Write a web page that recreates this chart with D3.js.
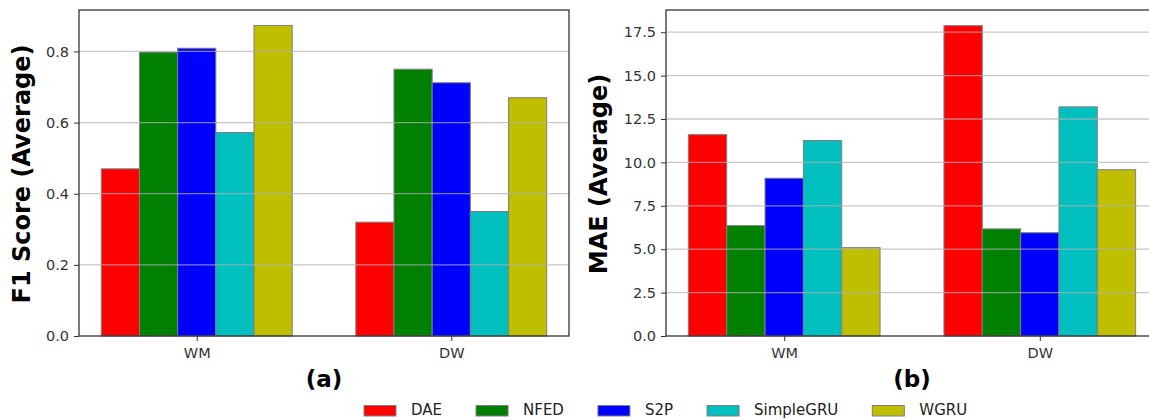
<!DOCTYPE html>
<html><head><meta charset="utf-8">
<script src="https://cdn.jsdelivr.net/npm/d3@7"></script>
<style>
body{margin:0;background:#fff;}
text{font-family:"DejaVu Sans",sans-serif;}
</style></head>
<body><svg id="c" width="1149" height="419"></svg>
<script>
const categories = ["WM", "DW"];
const models = ["DAE", "NFED", "S2P", "SimpleGRU", "WGRU"];
const colors = ["#ff0000", "#008000", "#0000ff", "#00bfbf", "#bfbf00"];
const f1Values = {
  DAE: [0.47, 0.32],
  NFED: [0.798, 0.75],
  S2P: [0.809, 0.712],
  SimpleGRU: [0.572, 0.35],
  WGRU: [0.873, 0.67]
};
const maeValues = {
  DAE: [11.6, 17.88],
  NFED: [6.36, 6.17],
  S2P: [9.09, 5.95],
  SimpleGRU: [11.26, 13.2],
  WGRU: [5.09, 9.58]
};
const f1Ticks = [0, 0.2, 0.4, 0.6, 0.8];
const maeTicks = [0, 2.5, 5, 7.5, 10, 12.5, 15, 17.5];

const svg = d3.select("#c");
svg.append("rect").attr("width",1149).attr("height",419).attr("fill","#fff");
const barW = 0.15;

function panel(opts){
  const g = svg.append("g");
  const x = d3.scaleLinear().domain([-0.4625, 1.4625]).range([opts.x0, opts.x1]);
  const y = d3.scaleLinear().domain([0, opts.ymax]).range([336, 10]);
  // bars
  models.forEach((m, j) => {
    g.selectAll(null).data(opts.values[m]).enter().append("rect")
      .attr("x", (d,i) => x(i + (j-2)*barW - barW/2))
      .attr("width", (d,i) => x(barW) - x(0))
      .attr("y", d => y(d))
      .attr("height", d => y(0) - y(d))
      .attr("fill", colors[j])
      .attr("stroke", "#7f7f7f")
      .attr("stroke-width", 1);
  });
  // grid
  g.selectAll(null).data(opts.ticks.filter(t=>t>0)).enter().append("line")
    .attr("x1", opts.x0).attr("x2", opts.x1)
    .attr("y1", d=>y(d)).attr("y2", d=>y(d))
    .attr("stroke", "#b0b0b0").attr("stroke-opacity", 0.7).attr("stroke-width", 1.3);
  // y axis
  const ya = d3.axisLeft(y).tickValues(opts.ticks).tickFormat(d3.format(".1f")).tickSize(5).tickPadding(5);
  const yg = g.append("g").attr("transform", `translate(${opts.x0},0)`).call(ya);
  yg.select(".domain").remove();
  yg.selectAll("text").attr("font-size", 14.5).attr("fill", "#333").attr("font-family", "DejaVu Sans");
  yg.selectAll("line").attr("stroke", "#333");
  // x axis
  const xa = d3.axisBottom(x).tickValues([0,1]).tickFormat((d)=>categories[d]).tickSize(5).tickPadding(7);
  const xg = g.append("g").attr("transform", `translate(0,336)`).call(xa);
  xg.select(".domain").remove();
  xg.selectAll("text").attr("font-size", 14.5).attr("fill", "#333").attr("font-family", "DejaVu Sans");
  xg.selectAll("line").attr("stroke", "#333");
  // frame
  g.append("rect").attr("x", opts.x0).attr("y", 10).attr("width", opts.x1-opts.x0).attr("height", 326)
    .attr("fill","none").attr("stroke","#333").attr("stroke-width",1.3);
  // y label
  g.append("text").attr("transform", `translate(${opts.lx},174) rotate(-90)`)
    .attr("text-anchor","middle").attr("dominant-baseline","central")
    .attr("font-size", 24).attr("font-weight","bold").attr("fill","#000").text(opts.label);
  // panel letter
  g.append("text").attr("x", (opts.x0+opts.x1)/2).attr("y", 387)
    .attr("text-anchor","middle").attr("font-size", 23).attr("font-weight","bold").attr("fill","#000").text(opts.letter);
}

panel({x0:79, x1:569, ymax:0.9165, values:f1Values, ticks:f1Ticks, label:"F1 Score (Average)", lx:22, letter:"(a)"});
panel({x0:666, x1:1158, ymax:18.78, values:maeValues, ticks:maeTicks, label:"MAE (Average)", lx:599, letter:"(b)"});

// legend
const lg = svg.append("g");
let cx = 364;
models.forEach((m, j) => {
  lg.append("rect").attr("x", cx).attr("y", 405.5).attr("width", 32).attr("height", 10.5)
    .attr("fill", colors[j]).attr("stroke", "#7f7f7f").attr("stroke-width", 1);
  const t = lg.append("text").attr("x", cx + 47).attr("y", 415).attr("font-size", 15).attr("fill", "#222").text(m);
  cx = cx + 47 + t.node().getComputedTextLength() + 34;
});
</script></body></html>
